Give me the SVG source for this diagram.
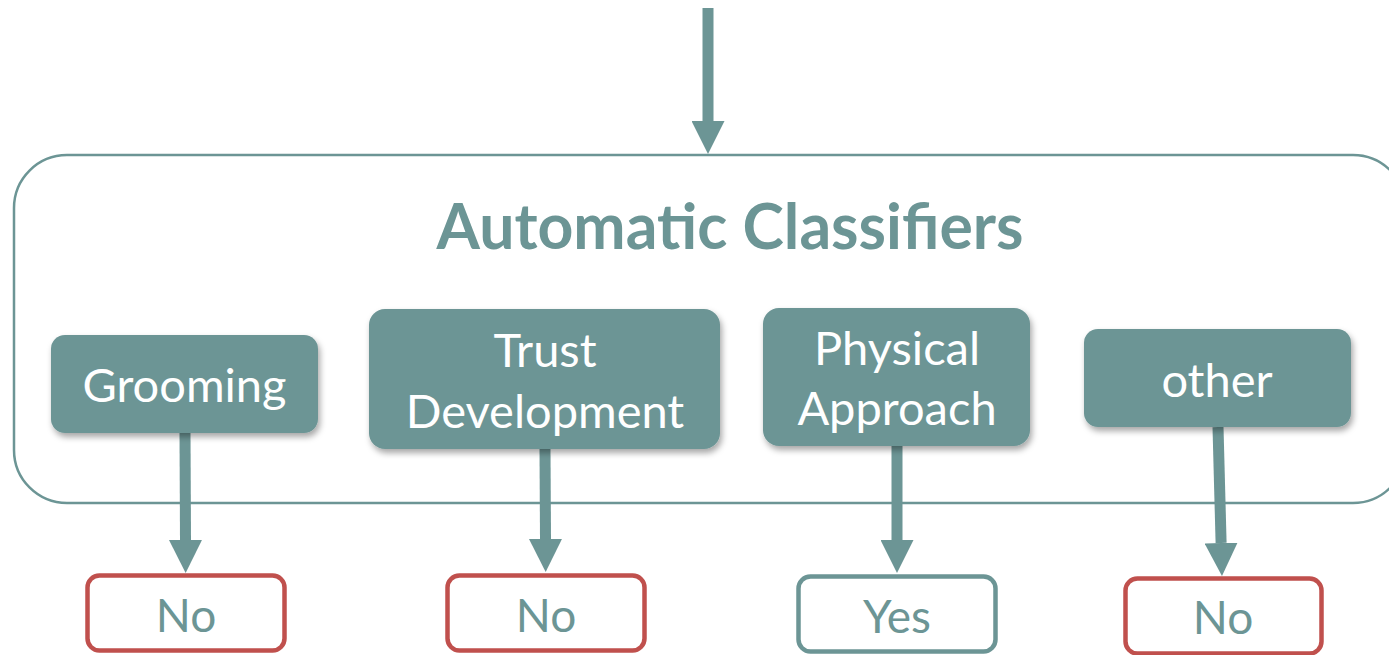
<svg xmlns="http://www.w3.org/2000/svg" width="1389" height="655" viewBox="0 0 1389 655">
  <defs>
    <style>
      .container { fill: none; stroke: #6C9595; stroke-width: 2.5; }
      .cls { fill: #6C9595; filter: url(#shadow); }
      .cls-text { fill: #FFFFFF; font-family: Lato, "Liberation Sans", sans-serif; font-size: 47px; text-anchor: middle; }
      .title { fill: #6C9595; font-family: Lato, "Liberation Sans", sans-serif; font-size: 62.5px; font-weight: bold; text-anchor: middle; }
      .res-no { fill: #FFFFFF; stroke: #C0504D; stroke-width: 4.5; }
      .res-yes { fill: #FFFFFF; stroke: #6C9595; stroke-width: 4.5; }
      .res-text { fill: #6C9595; font-family: Lato, "Liberation Sans", sans-serif; font-size: 46px; text-anchor: middle; }
      .conn { fill: none; stroke: #6C9595; stroke-width: 11; marker-end: url(#head); }
    </style>
    <filter id="shadow" x="-10%" y="-10%" width="125%" height="135%">
      <feDropShadow dx="2" dy="4" stdDeviation="3" flood-color="#000000" flood-opacity="0.35"/>
    </filter>
    <marker id="head" viewBox="0 0 33 33" markerWidth="33" markerHeight="33" markerUnits="userSpaceOnUse" refX="0" refY="16.5" orient="auto">
      <path d="M0,0 L33,16.5 L0,33 Z" fill="#6C9595"/>
    </marker>
  </defs>

  <g id="container">
    <rect class="container" x="14" y="155" width="1392" height="348" rx="53" ry="53"/>
    <text class="title" x="730" y="249">Automatic Classifiers</text>
  </g>

  <g id="connectors">
    <line class="conn" x1="708" y1="8" x2="708" y2="121"/>
    <line class="conn" x1="185" y1="433" x2="185.5" y2="540"/>
    <line class="conn" x1="545" y1="449" x2="545.5" y2="539"/>
    <line class="conn" x1="897" y1="446" x2="897" y2="540"/>
    <line class="conn" x1="1218" y1="427" x2="1221.1" y2="543"/>
  </g>

  <g id="grooming">
    <rect class="cls" x="51" y="335" width="267" height="98" rx="14" ry="14"/>
    <text class="cls-text" x="184.5" y="402">Grooming</text>
  </g>

  <g id="trust-development">
    <rect class="cls" x="369" y="309" width="351" height="140" rx="16" ry="16"/>
    <text class="cls-text" x="545" y="367">Trust</text>
    <text class="cls-text" x="545" y="428">Development</text>
  </g>

  <g id="physical-approach">
    <rect class="cls" x="763" y="308" width="267" height="138" rx="16" ry="16"/>
    <text class="cls-text" x="897" y="365">Physical</text>
    <text class="cls-text" x="897" y="425">Approach</text>
  </g>

  <g id="other">
    <rect class="cls" x="1084" y="329" width="267" height="98" rx="14" ry="14"/>
    <text class="cls-text" x="1217" y="397">other</text>
  </g>

  <g id="result-grooming">
    <rect class="res-no" x="87.5" y="575.5" width="197" height="75" rx="12" ry="12"/>
    <text class="res-text" x="186" y="632">No</text>
  </g>

  <g id="result-trust">
    <rect class="res-no" x="447.5" y="575.5" width="197" height="75" rx="12" ry="12"/>
    <text class="res-text" x="546" y="632">No</text>
  </g>

  <g id="result-physical">
    <rect class="res-yes" x="798.5" y="576.5" width="197" height="75" rx="12" ry="12"/>
    <text class="res-text" x="897" y="633">Yes</text>
  </g>

  <g id="result-other">
    <rect class="res-no" x="1125.5" y="578.5" width="196" height="75" rx="12" ry="12"/>
    <text class="res-text" x="1223" y="634">No</text>
  </g>
</svg>
